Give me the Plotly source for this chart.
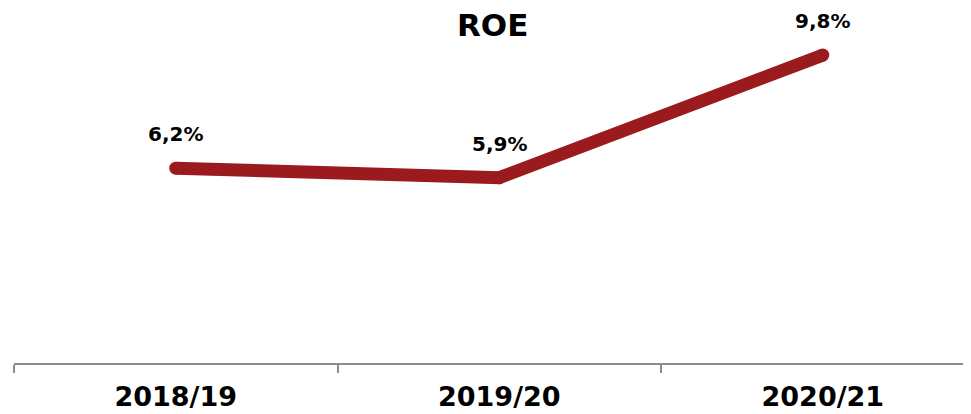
import plotly.graph_objects as go

categories = ["2018/19", "2019/20", "2020/21"]
roe = [6.2, 5.9, 9.8]
labels = ["6,2%", "5,9%", "9,8%"]
title = "ROE"

RED = "#9b1a1e"
fig = go.Figure()
fig.add_trace(go.Scatter(
    x=categories, y=roe, mode="lines+markers",
    line=dict(color=RED, width=13, shape="linear"),
    marker=dict(color=RED, size=13, line=dict(width=0)),
    hoverinfo="skip", showlegend=False,
))
for c, v, t in zip(categories, roe, labels):
    fig.add_annotation(x=c, y=v, text="<b>" + t + "</b>", showarrow=False, yshift=34,
                       font=dict(family="DejaVu Sans", size=20, color="#000000"))
fig.add_annotation(x=0.5, y=1, xref="paper", yref="paper", text="<b>" + title + "</b>",
                   showarrow=False, yanchor="top", yshift=3,
                   font=dict(family="DejaVu Sans", size=31, color="#000000"))

# page body has an 8px default margin, so the figure is sized/offset to compensate
fig.update_layout(
    width=963, height=406,
    margin=dict(l=6, r=0, t=0, b=51),
    paper_bgcolor="white", plot_bgcolor="white",
    font=dict(family="DejaVu Sans", color="#000000"),
    xaxis=dict(type="category", range=[-0.5, 2.458], showgrid=False, zeroline=False,
               showline=True, linecolor="#8c8c8c", linewidth=2,
               ticks="outside", ticklen=8, tickwidth=2, tickcolor="#8c8c8c",
               tickson="boundaries", automargin=False, ticklabelstandoff=9,
               tickprefix="<b>", ticksuffix="</b>",
               tickfont=dict(family="DejaVu Sans", size=27, color="#000000")),
    yaxis=dict(range=[0, 11.3], visible=False, showgrid=False, zeroline=False,
               automargin=False),
)
fig.write_html("out.html")
